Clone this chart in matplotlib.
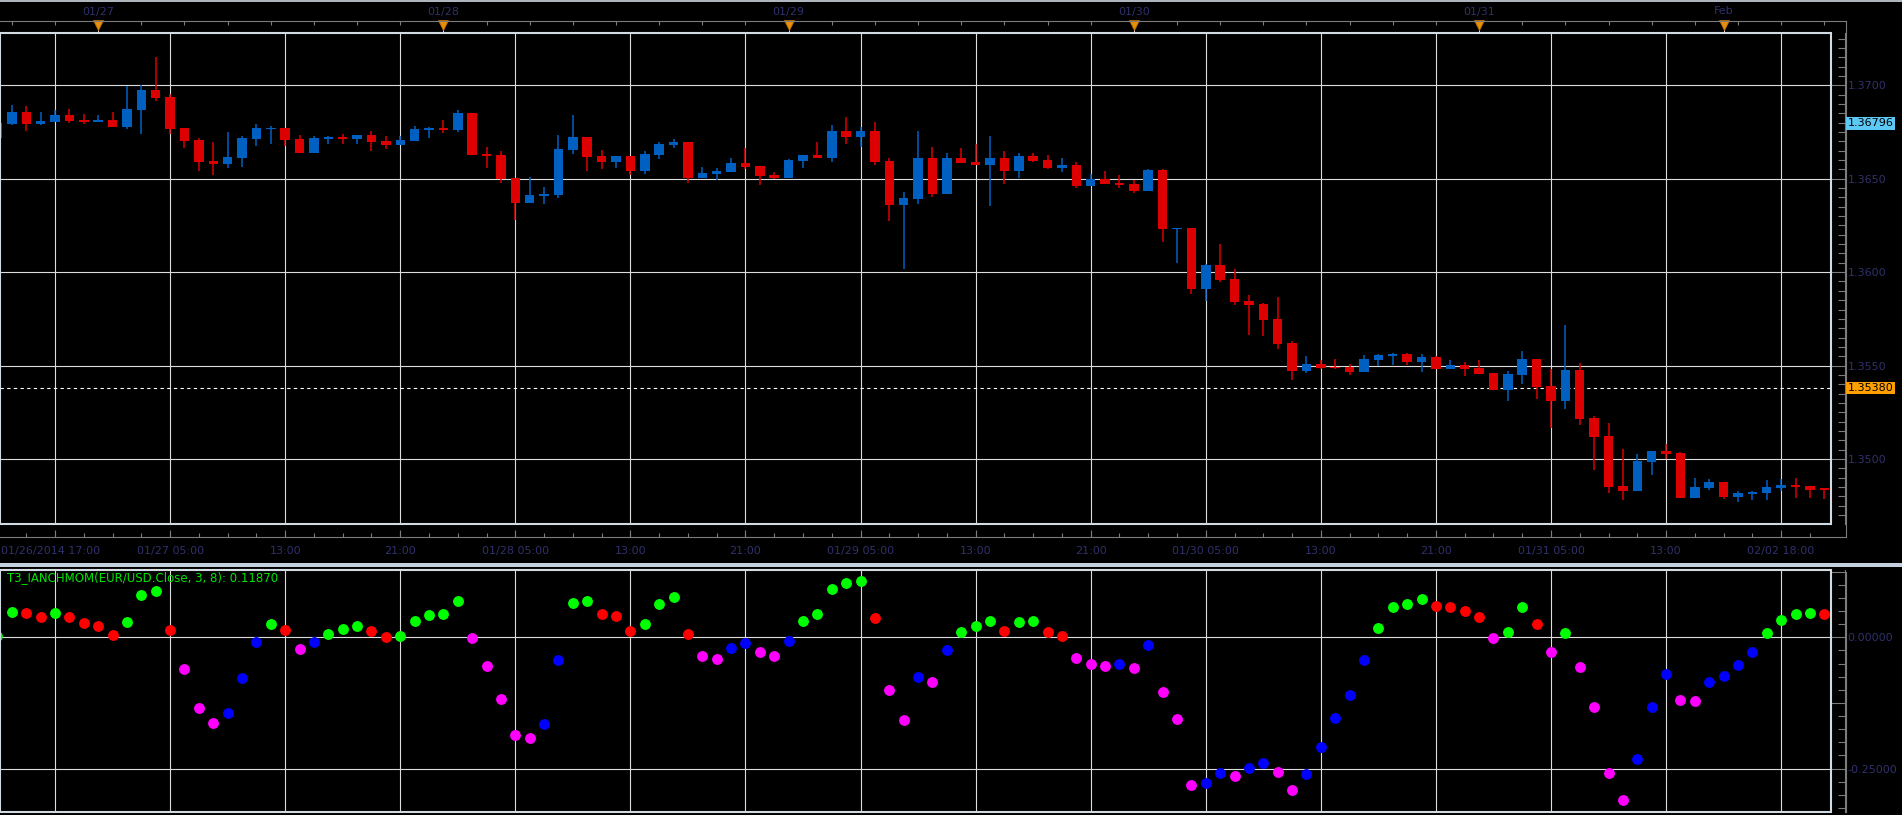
"""EUR/USD hourly candles with the T3_IANCHMOM momentum dots underneath"""

import matplotlib
matplotlib.use('Agg')
import matplotlib.pyplot as plt
import matplotlib.transforms as mtransforms
from matplotlib.lines import Line2D
from matplotlib.patches import Rectangle
from matplotlib.ticker import MultipleLocator, FixedLocator, FuncFormatter
import numpy as np

plt.rcParams['axes.unicode_minus'] = False

# ---- data (one hourly bar per entry) ----
opens = np.array([
    1.36720, 1.36795, 1.36857, 1.36793, 1.36804, 1.36841, 1.36816, 1.36806,
    1.36815, 1.36777, 1.36868, 1.36975, 1.36938, 1.36772, 1.36708, 1.36595,
    1.36579, 1.36611, 1.36713, 1.36766, 1.36772, 1.36713, 1.36638, 1.36713,
    1.36724, 1.36713, 1.36734, 1.36702, 1.36681, 1.36702, 1.36761, 1.36772,
    1.36761, 1.36852, 1.36633, 1.36627, 1.36504, 1.36371, 1.36408, 1.36414,
    1.36654, 1.36724, 1.36622, 1.36590, 1.36622, 1.36542, 1.36627, 1.36681,
    1.36697, 1.36504, 1.36526, 1.36537, 1.36585, 1.36569, 1.36520, 1.36504,
    1.36595, 1.36627, 1.36611, 1.36756, 1.36724, 1.36756, 1.36595, 1.36360,
    1.36392, 1.36611, 1.36419, 1.36611, 1.36590, 1.36574, 1.36611, 1.36542,
    1.36622, 1.36601, 1.36558, 1.36574, 1.36462, 1.36499, 1.36478, 1.36472,
    1.36435, 1.36547, 1.36232, 1.36237, 1.35911, 1.36039, 1.35964, 1.35847,
    1.35831, 1.35750, 1.35622, 1.35472, 1.35510, 1.35494, 1.35494, 1.35467,
    1.35531, 1.35553, 1.35563, 1.35520, 1.35547, 1.35483, 1.35504, 1.35488,
    1.35462, 1.35371, 1.35451, 1.35537, 1.35392, 1.35312, 1.35478, 1.35221,
    1.35125, 1.34857, 1.34831, 1.34986, 1.35045, 1.35034, 1.34793, 1.34847,
    1.34879, 1.34799, 1.34815, 1.34820, 1.34847, 1.34863, 1.34857, 1.34841])
highs = np.array([
    1.36810, 1.36895, 1.36889, 1.36857, 1.36868, 1.36873, 1.36847, 1.36841,
    1.36857, 1.36998, 1.37004, 1.37153, 1.36954, 1.36772, 1.36718, 1.36697,
    1.36750, 1.36729, 1.36793, 1.36783, 1.36772, 1.36734, 1.36729, 1.36729,
    1.36740, 1.36734, 1.36756, 1.36729, 1.36729, 1.36783, 1.36777, 1.36815,
    1.36868, 1.36852, 1.36670, 1.36649, 1.36504, 1.36510, 1.36456, 1.36734,
    1.36841, 1.36724, 1.36654, 1.36622, 1.36622, 1.36649, 1.36697, 1.36713,
    1.36697, 1.36563, 1.36558, 1.36611, 1.36665, 1.36569, 1.36537, 1.36606,
    1.36627, 1.36697, 1.36788, 1.36831, 1.36777, 1.36804, 1.36611, 1.36430,
    1.36756, 1.36670, 1.36638, 1.36665, 1.36686, 1.36729, 1.36649, 1.36638,
    1.36638, 1.36627, 1.36611, 1.36590, 1.36526, 1.36542, 1.36520, 1.36494,
    1.36553, 1.36553, 1.36237, 1.36237, 1.36045, 1.36152, 1.36018, 1.35879,
    1.35836, 1.35868, 1.35633, 1.35553, 1.35531, 1.35537, 1.35510, 1.35558,
    1.35563, 1.35569, 1.35569, 1.35563, 1.35553, 1.35531, 1.35520, 1.35531,
    1.35462, 1.35472, 1.35579, 1.35537, 1.35483, 1.35718, 1.35515, 1.35232,
    1.35194, 1.35055, 1.35029, 1.35045, 1.35082, 1.35039, 1.34900, 1.34895,
    1.34879, 1.34831, 1.34831, 1.34889, 1.34895, 1.34900, 1.34857, 1.34841])
lows = np.array([
    1.36710, 1.36788, 1.36756, 1.36788, 1.36804, 1.36799, 1.36793, 1.36806,
    1.36777, 1.36766, 1.36740, 1.36916, 1.36740, 1.36665, 1.36542, 1.36520,
    1.36558, 1.36563, 1.36676, 1.36686, 1.36676, 1.36638, 1.36638, 1.36686,
    1.36686, 1.36686, 1.36649, 1.36660, 1.36681, 1.36702, 1.36718, 1.36745,
    1.36750, 1.36627, 1.36558, 1.36478, 1.36280, 1.36371, 1.36365, 1.36398,
    1.36633, 1.36542, 1.36553, 1.36558, 1.36520, 1.36526, 1.36606, 1.36665,
    1.36478, 1.36504, 1.36494, 1.36537, 1.36553, 1.36467, 1.36499, 1.36504,
    1.36558, 1.36611, 1.36590, 1.36686, 1.36670, 1.36574, 1.36275, 1.36018,
    1.36365, 1.36403, 1.36419, 1.36585, 1.36574, 1.36355, 1.36472, 1.36504,
    1.36590, 1.36553, 1.36537, 1.36451, 1.36462, 1.36472, 1.36451, 1.36424,
    1.36435, 1.36162, 1.36050, 1.35884, 1.35847, 1.35948, 1.35825, 1.35665,
    1.35660, 1.35590, 1.35424, 1.35462, 1.35483, 1.35483, 1.35451, 1.35467,
    1.35499, 1.35504, 1.35504, 1.35467, 1.35483, 1.35483, 1.35446, 1.35456,
    1.35371, 1.35312, 1.35403, 1.35323, 1.35168, 1.35269, 1.35184, 1.34943,
    1.34820, 1.34783, 1.34831, 1.34916, 1.35002, 1.34793, 1.34793, 1.34836,
    1.34788, 1.34772, 1.34783, 1.34783, 1.34831, 1.34793, 1.34793, 1.34788])
closes = np.array([
    1.36800, 1.36857, 1.36795, 1.36809, 1.36841, 1.36809, 1.36806, 1.36816,
    1.36777, 1.36873, 1.36975, 1.36932, 1.36766, 1.36702, 1.36590, 1.36579,
    1.36617, 1.36718, 1.36772, 1.36772, 1.36708, 1.36638, 1.36718, 1.36724,
    1.36713, 1.36734, 1.36697, 1.36681, 1.36708, 1.36766, 1.36772, 1.36761,
    1.36852, 1.36627, 1.36622, 1.36499, 1.36371, 1.36414, 1.36419, 1.36660,
    1.36724, 1.36617, 1.36590, 1.36622, 1.36542, 1.36633, 1.36686, 1.36697,
    1.36504, 1.36531, 1.36542, 1.36585, 1.36563, 1.36515, 1.36504, 1.36601,
    1.36627, 1.36611, 1.36756, 1.36724, 1.36756, 1.36590, 1.36360, 1.36398,
    1.36611, 1.36419, 1.36611, 1.36585, 1.36574, 1.36611, 1.36542, 1.36622,
    1.36595, 1.36558, 1.36574, 1.36462, 1.36499, 1.36472, 1.36467, 1.36435,
    1.36547, 1.36232, 1.36237, 1.35911, 1.36039, 1.35959, 1.35841, 1.35825,
    1.35745, 1.35617, 1.35472, 1.35510, 1.35488, 1.35488, 1.35467, 1.35537,
    1.35558, 1.35563, 1.35520, 1.35547, 1.35483, 1.35504, 1.35483, 1.35456,
    1.35371, 1.35456, 1.35537, 1.35387, 1.35312, 1.35478, 1.35216, 1.35119,
    1.34852, 1.34831, 1.34991, 1.35045, 1.35029, 1.34793, 1.34852, 1.34879,
    1.34799, 1.34820, 1.34825, 1.34852, 1.34863, 1.34852, 1.34836, 1.34836])

# T3_IANCHMOM value per bar and its dot colour (g/r above zero, b/m below)
mom_values = np.array([
    0.002, 0.048, 0.046, 0.039, 0.046, 0.039, 0.027, 0.022,
    0.004, 0.029, 0.081, 0.088, 0.014, -0.060, -0.134, -0.163,
    -0.144, -0.077, -0.009, 0.025, 0.014, -0.022, -0.009, 0.006,
    0.016, 0.022, 0.012, 0.001, 0.003, 0.031, 0.043, 0.044,
    0.070, -0.001, -0.055, -0.117, -0.187, -0.191, -0.166, -0.043,
    0.066, 0.070, 0.045, 0.040, 0.013, 0.026, 0.063, 0.077,
    0.006, -0.036, -0.041, -0.020, -0.011, -0.027, -0.036, -0.006,
    0.031, 0.045, 0.093, 0.103, 0.107, 0.036, -0.101, -0.157,
    -0.075, -0.085, -0.025, 0.010, 0.022, 0.031, 0.013, 0.029,
    0.031, 0.011, 0.003, -0.039, -0.050, -0.054, -0.050, -0.059,
    -0.014, -0.104, -0.155, -0.281, -0.277, -0.258, -0.264, -0.249,
    -0.239, -0.256, -0.291, -0.260, -0.209, -0.153, -0.109, -0.043,
    0.017, 0.057, 0.064, 0.074, 0.059, 0.057, 0.051, 0.038,
    -0.001, 0.011, 0.057, 0.026, -0.027, 0.009, -0.056, -0.133,
    -0.258, -0.310, -0.232, -0.132, -0.069, -0.119, -0.122, -0.085,
    -0.073, -0.052, -0.027, 0.008, 0.033, 0.045, 0.046, 0.045])
mom_colors = list(''.join([
    'ggrrgrrr', 'rgggrmmm', 'bbbgrmbg', 'ggrrgggg',
    'gmmmmmbb', 'ggrrrggg', 'rmmbbmmb', 'gggggrmm',
    'bmbgggrg', 'grrmmmbm', 'bmmmbbmb', 'bmmbbbbb',
    'ggggrrrr', 'mggrmgmm', 'mmbbbmmb', 'bbbggggr']))

# bar index of each date marker on the top strip
date_idx = [7, 31, 55, 79, 103, 120]
date_labels = ['01/27', '01/28', '01/29', '01/30', '01/31', 'Feb']
# bar index of each vertical grid line, with its time label
grid_idx = [4, 12, 20, 28, 36, 44, 52, 60, 68, 76, 84, 92, 100, 108, 116, 124]
grid_labels = ['', '01/27 05:00', '13:00', '21:00', '01/28 05:00', '13:00',
               '21:00', '01/29 05:00', '13:00', '21:00', '01/30 05:00',
               '13:00', '21:00', '01/31 05:00', '13:00', '02/02 18:00']
first_label = '01/26/2014 17:00'
high_marker = 1.36796
last_price = 1.35380
legend_text = 'T3_IANCHMOM(EUR/USD.Close, 3, 8): 0.11870'

# ---- styling ----
W, H = 1902, 815
BLUE, RED = '#0060C2', '#DC0000'
GRID = '#DCDCDC'
FRAME = '#D2DAE2'
TICK = '#7C7C7C'
NAVY = '#30306C'
DOT = {'g': '#00FF00', 'r': '#FF0000', 'b': '#0000FF', 'm': '#FF00FF'}


def px_rect(x0, y0, x1, y1):
    return [x0 / W, 1 - y1 / H, (x1 - x0) / W, (y1 - y0) / H]


def fy(y):
    return 1 - y / H


fig = plt.figure(figsize=(W / 100, H / 100), dpi=100, facecolor='black')
ax = fig.add_axes(px_rect(0, 33, 1831, 524), facecolor='black')
ax2 = fig.add_axes(px_rect(0, 570, 1831, 812), facecolor='black')
xlims = (2.5 / 14.384, 1833.5 / 14.384)

x = np.arange(len(opens))
up = closes >= opens
colors = np.where(up, BLUE, RED)

# candles
ax.vlines(x, lows, highs, colors=colors, lw=1.1, zorder=4)
mid = (opens + closes) / 2
body = np.maximum(np.abs(closes - opens), 0.00008)
ax.bar(x, body, bottom=mid - body / 2, width=0.66, color=colors, lw=0, zorder=5)

for axis in (ax, ax2):
    for g in grid_idx:
        axis.axvline(g, color=GRID, lw=0.8, zorder=1)
for v in np.arange(1.350, 1.3701, 0.005):
    ax.axhline(v, color=GRID, lw=0.8, zorder=1)
ax.axhline(last_price, color='white', lw=0.8, ls=(0, (3, 3)), zorder=2)

# momentum dots
for code, col in DOT.items():
    mask = np.array([c == code for c in mom_colors])
    ax2.plot(x[mask], mom_values[mask], 'o', ms=6.8, color=col, mec=col, zorder=4)
for v in (0.0, -0.25):
    ax2.axhline(v, color=GRID, lw=0.8, zorder=1)

# axes frames, right-hand scales
for axis in (ax, ax2):
    axis.set_xlim(*xlims)
    for side in ('top', 'bottom', 'left'):
        axis.spines[side].set_visible(False)
    axis.spines['right'].set_position(('outward', 10))
    axis.spines['right'].set_color(TICK)
    axis.add_patch(Rectangle((0, 0), 1, 1, transform=axis.transAxes, fill=False,
                             ec=FRAME, lw=1.5, clip_on=False, zorder=10))
    axis.tick_params(axis='x', bottom=False, labelbottom=False)
    axis.yaxis.set_ticks_position('right')
    axis.tick_params(axis='y', which='major', direction='in', length=10, width=0.8,
                     color=TICK, labelcolor=NAVY, labelsize=8, pad=2)
    axis.tick_params(axis='y', which='minor', direction='in', length=5, width=0.8,
                     color=TICK)

ax.set_ylim(1.346524, 1.372797)
ax.yaxis.set_major_locator(MultipleLocator(0.005))
ax.yaxis.set_minor_locator(MultipleLocator(0.0005))
ax.yaxis.set_major_formatter(FuncFormatter(lambda v, p: '%.4f' % v))

ax2.set_ylim(-0.3328, 0.1284)
ax2.yaxis.set_major_locator(FixedLocator([0.125, 0.0, -0.125, -0.25]))
ax2.yaxis.set_minor_locator(MultipleLocator(0.025))
ax2.yaxis.set_major_formatter(
    FuncFormatter(lambda v, p: '%.5f' % v if abs(v * 4 - round(v * 4)) < 1e-6 else ''))

# price flags on the scale
ytrans = mtransforms.blended_transform_factory(fig.transFigure, ax.transData)
fig.text(1847.5 / W, high_marker, '%.5f' % high_marker, transform=ytrans, fontsize=8,
         va='center', ha='left', color='black',
         bbox=dict(boxstyle='square,pad=0.13', fc='#5CC8F6', ec='none'))
fig.text(1847.5 / W, last_price, '%.5f' % last_price, transform=ytrans, fontsize=8,
         va='center', ha='left', color='black',
         bbox=dict(boxstyle='square,pad=0.13', fc='#FFA000', ec='none'))

# top date strip
xtrans = mtransforms.blended_transform_factory(ax.transData, fig.transFigure)
fig.add_artist(Line2D([0, 1], [fy(0.8)] * 2, color=FRAME, lw=1.2))
fig.add_artist(Line2D([0, 1845.5 / W], [fy(20.5)] * 2, color=TICK, lw=0.8))
ax.vlines(np.arange(1, 128, 3), fy(20.5), fy(24.5), transform=xtrans,
          colors=TICK, lw=0.8, clip_on=False)
ax.vlines(date_idx, fy(28), fy(33), transform=xtrans, colors='white', lw=0.6,
          clip_on=False)
ax.plot(date_idx, [fy(24.5)] * len(date_idx), 'v', transform=xtrans, ms=6.5,
        color='#E8900A', mec='#B86A00', mew=0.6, clip_on=False, zorder=6)
for i, lab in zip(date_idx, date_labels):
    ax.text(i, fy(11.5), lab, transform=xtrans, ha='center', va='center',
            fontsize=8, color=NAVY, clip_on=False)

# bottom time strip
fig.add_artist(Line2D([0, 1845.5 / W], [fy(536.5)] * 2, color=TICK, lw=0.8))
ax.vlines(np.arange(0, 128, 2), fy(536.5), fy(532.5), transform=xtrans,
          colors=TICK, lw=0.8, clip_on=False)
ax.vlines(grid_idx, fy(536.5), fy(529.5), transform=xtrans,
          colors=TICK, lw=0.8, clip_on=False)
fig.text(1 / W, fy(551), first_label, ha='left', va='center', fontsize=8, color=NAVY)
for i, lab in zip(grid_idx, grid_labels):
    ax.text(i, fy(551), lab, transform=xtrans, ha='center', va='center',
            fontsize=8, color=NAVY, clip_on=False)

# right scale lines and separator bar
fig.add_artist(Line2D([1845.5 / W] * 2, [fy(20.5), fy(536.5)], color=TICK, lw=0.8))
fig.add_artist(Line2D([1845.5 / W] * 2, [fy(571.5), fy(812)], color=TICK, lw=0.8))
fig.add_artist(Rectangle((0, fy(566.8)), 1, 4.2 / H, transform=fig.transFigure,
                         fc='#C4D0DE', ec='none'))

fig.text(7 / W, fy(578), legend_text, ha='left', va='center', fontsize=8.5,
         color='#00E600')

fig.savefig('out.png', dpi=100, facecolor='black')
